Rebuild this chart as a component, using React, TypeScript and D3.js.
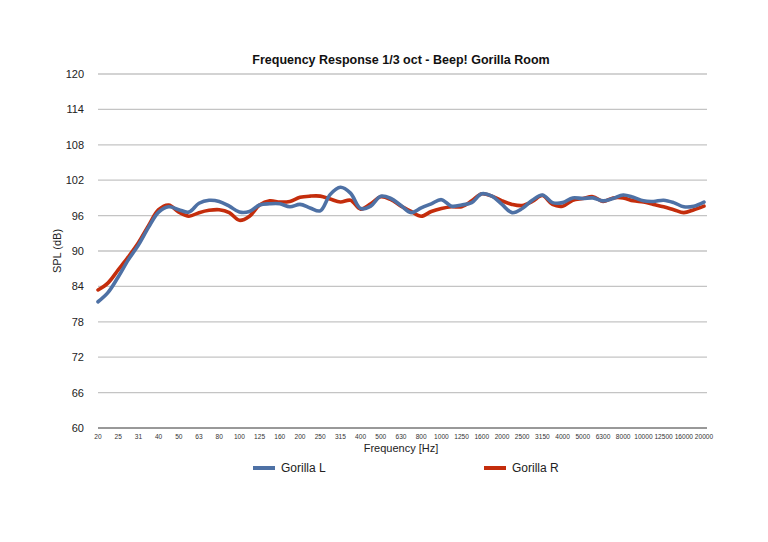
import React from "react";
import * as d3 from "d3";

const freqLabels = [
  "20", "25", "31", "40", "50", "63", "80", "100", "125", "160", "200",
  "250", "315", "400", "500", "630", "800", "1000", "1250", "1600", "2000",
  "2500", "3150", "4000", "5000", "6300", "8000", "10000", "12500", "16000", "20000",
];

// readings every half band (1/6 octave steps), dB SPL
const gorillaL = [
  81.4, 83.0, 85.6, 88.5, 91.0, 94.0, 96.6, 97.5, 97.0, 96.6,
  98.1, 98.6, 98.4, 97.6, 96.6, 96.7, 97.8, 98.0, 98.0, 97.5,
  97.9, 97.3, 96.8, 99.6, 100.8, 99.8, 97.2, 97.6, 99.3, 98.9,
  97.7, 96.5, 97.3, 98.0, 98.7, 97.6, 97.8, 98.2, 99.7, 99.3,
  97.9, 96.5, 97.2, 98.6, 99.5, 98.2, 98.2, 99.0, 98.9, 99.0,
  98.5, 98.9, 99.5, 99.1, 98.5, 98.4, 98.6, 98.2, 97.5, 97.6,
  98.3,
];
const gorillaR = [
  83.4, 84.6, 86.8, 89.0, 91.4, 94.3, 97.0, 97.8, 96.6, 95.9,
  96.5, 96.9, 97.0, 96.5, 95.2, 95.9, 97.8, 98.5, 98.3, 98.4,
  99.1, 99.3, 99.3, 98.8, 98.3, 98.6, 97.1, 98.0, 99.2, 98.7,
  97.6, 96.7, 95.9, 96.7, 97.2, 97.5, 97.5, 98.5, 99.7, 99.3,
  98.5, 97.9, 97.7, 98.4, 99.4, 97.9, 97.6, 98.6, 98.9, 99.2,
  98.4, 99.0, 99.0, 98.5, 98.3, 97.9, 97.5, 97.0, 96.5, 97.0,
  97.6,
];
const yTicks = [60, 66, 72, 78, 84, 90, 96, 102, 108, 114, 120];

const series = [
  { name: "Gorilla R", values: gorillaR, color: "#c42d0c" },
  { name: "Gorilla L", values: gorillaL, color: "#4e71a5" },
];

const W = 768;
const H = 542;
const x = d3.scaleLinear().domain([0, freqLabels.length - 1]).range([98, 704]);
const y = d3.scaleLinear().domain([60, 120]).range([428, 74]);
const font = "'Liberation Sans', Arial, Helvetica, sans-serif";

const line = d3
  .line<number>()
  .x((_, i) => x(i / 2))
  .y((d) => y(d))
  .curve(d3.curveCatmullRom.alpha(0.5));

export default function App() {
  return (
    <svg
      width={W}
      height={H}
      style={{ position: "absolute", left: 0, top: 0, background: "#fff" }}
      fontFamily={font}
    >
      <text x={401} y={64} textAnchor="middle" fontSize={12.5} fontWeight="bold" fill="#111">
        Frequency Response 1/3 oct - Beep! Gorilla Room
      </text>

      {yTicks.map((t) => (
        <g key={t}>
          <line
            x1={98}
            x2={707}
            y1={y(t)}
            y2={y(t)}
            stroke={t === 60 ? "#333" : "#c4c4c4"}
            strokeWidth={t === 60 ? 1 : 1.3}
          />
          <text x={84} y={y(t) + 4} textAnchor="end" fontSize={11} fill="#222">
            {t}
          </text>
        </g>
      ))}

      {freqLabels.map((f, i) => (
        <text key={f} x={x(i)} y={439} textAnchor="middle" fontSize={6.6} fill="#333">
          {f}
        </text>
      ))}

      <text x={401} y={452} textAnchor="middle" fontSize={11} fill="#222">
        Frequency [Hz]
      </text>
      <text
        transform={`translate(61,${y(90)}) rotate(-90)`}
        textAnchor="middle"
        fontSize={11}
        fill="#222"
      >
        SPL (dB)
      </text>

      {series.map((s) => (
        <path
          key={s.name}
          d={line(s.values) ?? ""}
          fill="none"
          stroke={s.color}
          strokeWidth={3.6}
          strokeLinejoin="round"
          strokeLinecap="round"
        />
      ))}

      {[
        { s: series[1], lx: 253 },
        { s: series[0], lx: 484 },
      ].map(({ s, lx }) => (
        <g key={s.name}>
          <line x1={lx} x2={lx + 22} y1={468} y2={468} stroke={s.color} strokeWidth={4} />
          <text x={lx + 28} y={472} fontSize={12} fill="#222">
            {s.name}
          </text>
        </g>
      ))}
    </svg>
  );
}
